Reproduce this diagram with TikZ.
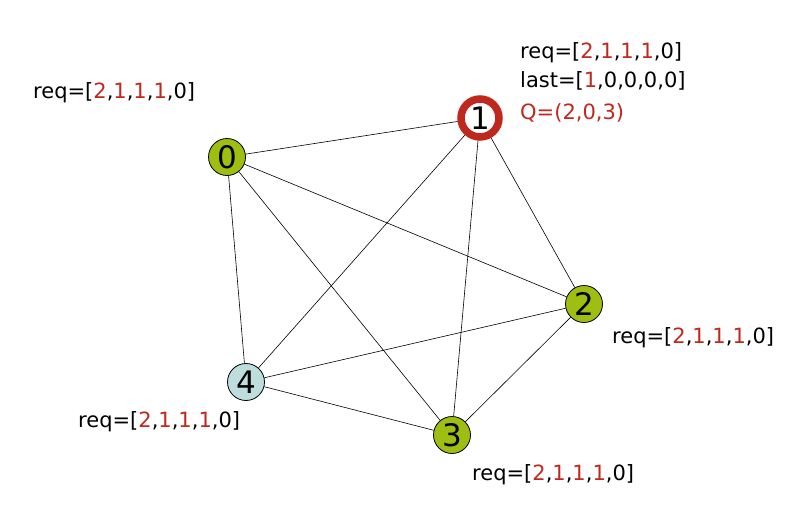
\documentclass[tikz,border=0pt]{standalone}
\usepackage{fontspec}
\setmainfont{DejaVu Sans}
\definecolor{nred}{RGB}{192,40,30}
\definecolor{ngreen}{RGB}{158,190,18}
\definecolor{nblue}{RGB}{190,222,222}
\newcommand{\R}[1]{\textcolor{nred}{#1}}
\newcommand{\reqtxt}{req=[\R{2},\R{1},\R{1},\R{1},0]}
\begin{document}
\begin{tikzpicture}[x=1pt,y=-1pt,
  vert/.style={circle,draw=black,line width=0.8pt,minimum size=37pt,inner sep=0pt,font=\fontsize{31}{31}\selectfont},
  lbl/.style={anchor=west,inner sep=0pt,font=\fontsize{21}{24}\selectfont},
  edge/.style={draw=black,line width=0.6pt}]
\useasboundingbox (0,0) rectangle (798,522);
\node[vert,fill=ngreen] (n0) at (227,157) {0};
\node[vert,fill=white,draw=nred,line width=7.5pt,minimum size=38pt] (n1) at (480,118) {1};
\node[vert,fill=ngreen] (n2) at (584,304) {2};
\node[vert,fill=ngreen] (n3) at (452,435) {3};
\node[vert,fill=nblue] (n4) at (246,382) {4};
\path[edge] (n0) -- (n1);
\path[edge] (n0) -- (n2);
\path[edge] (n0) -- (n3);
\path[edge] (n0) -- (n4);
\path[edge] (n1) -- (n2);
\path[edge] (n1) -- (n3);
\path[edge] (n1) -- (n4);
\path[edge] (n2) -- (n3);
\path[edge] (n2) -- (n4);
\path[edge] (n3) -- (n4);
\node[lbl] (l0) at (33,93) {\reqtxt};
\node[lbl] (l1a) at (520,53) {\reqtxt};
\node[lbl] (l1b) at (520,81) {last=[\R{1},0,0,0,0]};
\node[lbl] (l1c) at (520,113) {\R{Q=(2,0,3)}};
\node[lbl] (l2) at (612,338) {\reqtxt};
\node[lbl] (l4) at (78,422) {\reqtxt};
\node[lbl] (l3) at (472,475) {\reqtxt};
\end{tikzpicture}
\end{document}
